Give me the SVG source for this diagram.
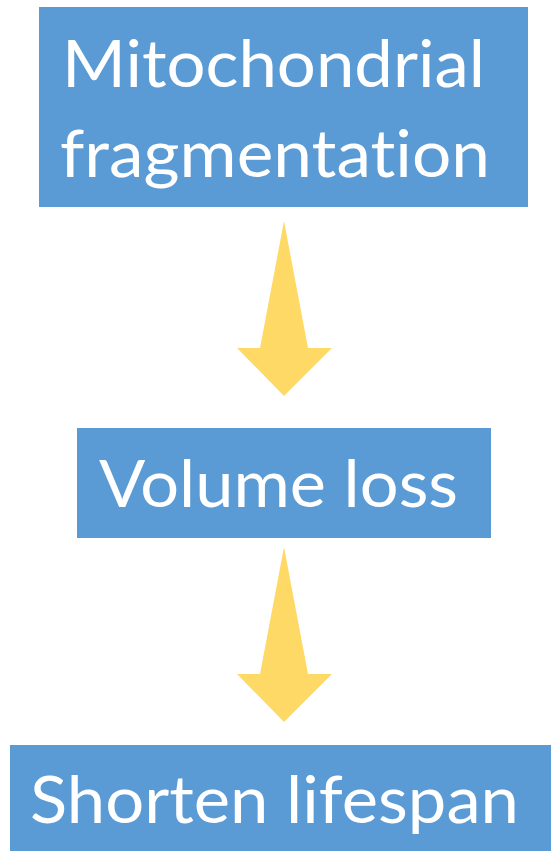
<svg xmlns="http://www.w3.org/2000/svg" width="551" height="851" viewBox="0 0 551 851">
<style>
.box{fill:#5B9BD5}
.lbl{fill:#FFFFFF;font-family:Lato,"Open Sans","Liberation Sans",sans-serif;font-size:66px;font-variant-ligatures:none;font-feature-settings:"liga" 0,"dlig" 0}
.arr{fill:#FFD966}
</style>
<rect width="551" height="851" fill="#FFFFFF"/>
<g id="node-mito">
<rect class="box" x="39" y="7" width="489" height="200"/>
<text class="lbl" x="62" y="87" textLength="423" lengthAdjust="spacingAndGlyphs">Mitochondrial</text>
<text class="lbl" x="60" y="177" textLength="430" lengthAdjust="spacingAndGlyphs">fragmentation</text>
</g>
<g id="node-volume">
<rect class="box" x="77" y="428" width="414" height="110"/>
<text class="lbl" x="99" y="507" textLength="359" lengthAdjust="spacingAndGlyphs">Volume loss</text>
</g>
<g id="node-lifespan">
<rect class="box" x="10" y="745" width="541" height="106"/>
<text class="lbl" x="30" y="823" textLength="489" lengthAdjust="spacingAndGlyphs">Shorten lifespan</text>
</g>
<g id="connectors">
<path class="arr" d="M284,221 L308,348 L332,348 L284,396 L237,348 L260,348 Z"/>
<path class="arr" d="M284,547 L308,674 L332,674 L284,722 L237,674 L260,674 Z"/>
</g>
</svg>
